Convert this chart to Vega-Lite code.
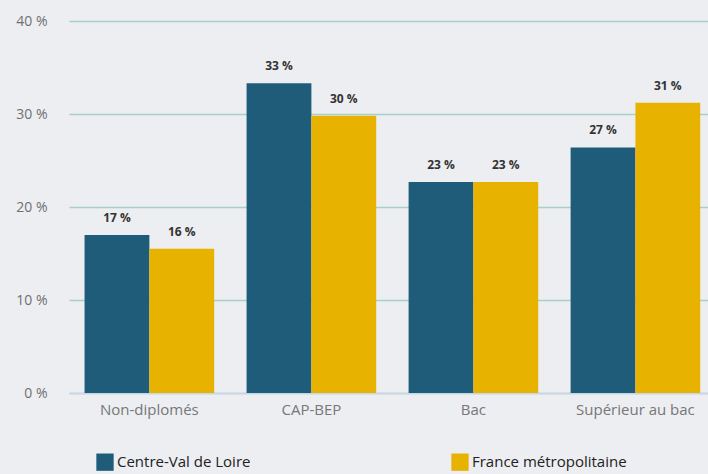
{
  "$schema": "https://vega.github.io/schema/vega-lite/v6.json",
  "autosize": {"type": "none"},
  "width": 639,
  "height": 372,
  "padding": {"left": 69, "top": 21, "right": 0, "bottom": 81},
  "background": "#eceef1",
  "config": {
    "font": "Open Sans",
    "view": {"stroke": null},
    "axis": {"labelFont": "Open Sans"}
  },
  "data": {
    "values": [
      {"diplome": "Non-diplomés", "zone": "Centre-Val de Loire", "value": 17.0, "label": "17 %"},
      {"diplome": "Non-diplomés", "zone": "France métropolitaine", "value": 15.5, "label": "16 %"},
      {"diplome": "CAP-BEP", "zone": "Centre-Val de Loire", "value": 33.3, "label": "33 %"},
      {"diplome": "CAP-BEP", "zone": "France métropolitaine", "value": 29.8, "label": "30 %"},
      {"diplome": "Bac", "zone": "Centre-Val de Loire", "value": 22.7, "label": "23 %"},
      {"diplome": "Bac", "zone": "France métropolitaine", "value": 22.7, "label": "23 %"},
      {"diplome": "Supérieur au bac", "zone": "Centre-Val de Loire", "value": 26.4, "label": "27 %"},
      {"diplome": "Supérieur au bac", "zone": "France métropolitaine", "value": 31.2, "label": "31 %"}
    ]
  },
  "encoding": {
    "x": {
      "field": "diplome", "type": "nominal", "sort": null, "title": null,
      "scale": {"paddingInner": 0.2, "paddingOuter": 0.072, "align": 0.667},
      "axis": {"labelAngle": 0, "labelFontSize": 15, "labelColor": "#777777", "ticks": false, "domain": true, "domainColor": "#c6d6e8", "domainWidth": 1.5, "labelPadding": 9}
    },
    "xOffset": {"field": "zone", "type": "nominal", "sort": ["Centre-Val de Loire", "France métropolitaine"]},
    "y": {
      "field": "value", "type": "quantitative", "title": null,
      "scale": {"domain": [0, 40]},
      "axis": {"values": [0, 10, 20, 30, 40], "labelExpr": "datum.value + ' %'", "labelFontSize": 14, "labelColor": "#707070", "ticks": false, "domain": false, "gridColor": "#a9cfcc", "gridWidth": 1.5, "labelPadding": 22}
    }
  },
  "layer": [
    {
      "mark": {"type": "bar"},
      "encoding": {
        "color": {
          "field": "zone", "type": "nominal",
          "scale": {"domain": ["Centre-Val de Loire", "France métropolitaine"], "range": ["#1e5c7a", "#e8b300"]},
          "legend": {
            "title": null, "orient": "none", "legendX": 27, "legendY": 432,
            "direction": "horizontal", "columns": 2, "columnPadding": 200,
            "symbolType": "square", "symbolSize": 300, "symbolStrokeWidth": 0,
            "labelFontSize": 15, "labelColor": "#222222", "labelOffset": 3, "labelFont": "Open Sans"
          }
        }
      }
    },
    {
      "mark": {"type": "text", "baseline": "bottom", "dy": -10, "fontSize": 12, "fontWeight": "bold", "color": "#333333"},
      "encoding": {"text": {"field": "label"}}
    }
  ]
}
